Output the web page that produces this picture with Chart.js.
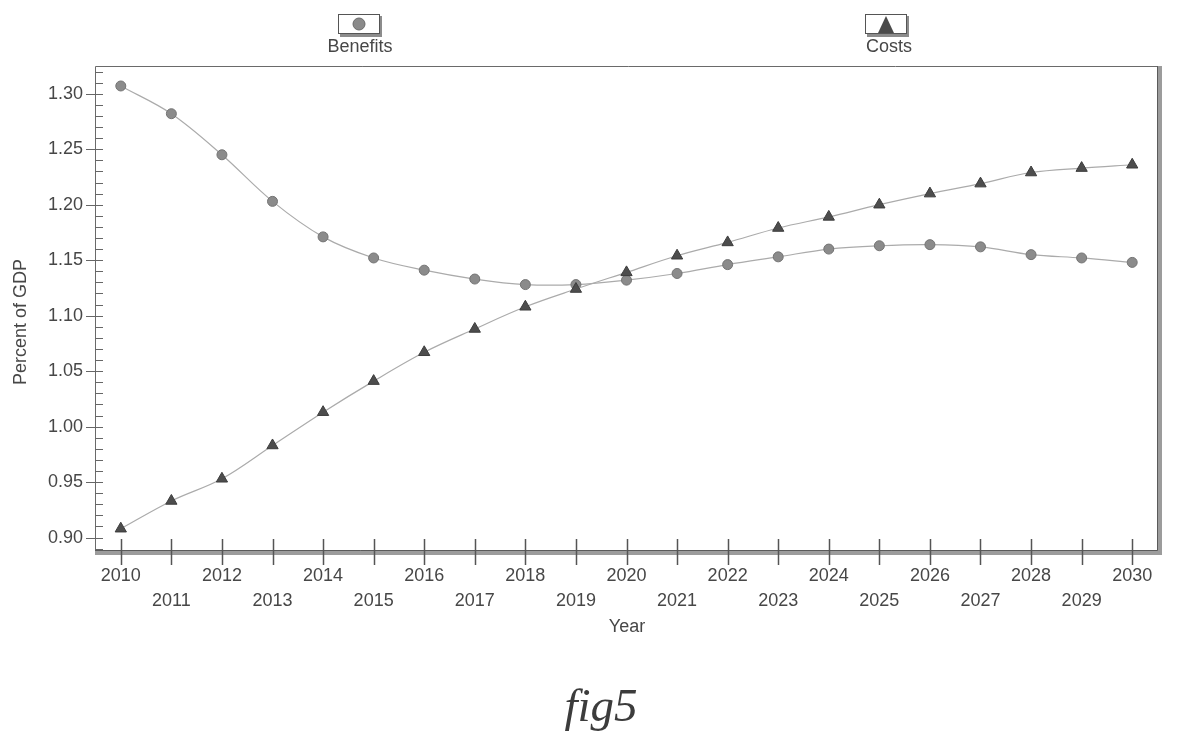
<!DOCTYPE html>
<html>
<head>
<meta charset="utf-8">
<script src="https://cdn.jsdelivr.net/npm/chart.js@4.4.1/dist/chart.umd.min.js"></script>
<style>
  html, body { margin: 0; padding: 0; background: #fff; }
  #wrap { position: relative; width: 1190px; height: 751px; }
  #caption {
    position: absolute; left: 0; top: 678px; width: 1202px;
    text-align: center; font: italic 47px "Liberation Serif", serif; color: #3c3c3c;
  }
</style>
</head>
<body>
<div id="wrap">
  <canvas id="chart" width="1190" height="751"></canvas>
  <div id="caption">fig5</div>
</div>
<script>
const years = [2010, 2011, 2012, 2013, 2014, 2015, 2016, 2017, 2018, 2019, 2020,
               2021, 2022, 2023, 2024, 2025, 2026, 2027, 2028, 2029, 2030];
const benefits = [1.307, 1.282, 1.245, 1.203, 1.171, 1.152, 1.141, 1.133, 1.128, 1.128, 1.132,
                  1.138, 1.146, 1.153, 1.160, 1.163, 1.164, 1.162, 1.155, 1.152, 1.148];
const costs = [0.908, 0.933, 0.953, 0.983, 1.013, 1.041, 1.067, 1.088, 1.108, 1.124, 1.139,
               1.154, 1.166, 1.179, 1.189, 1.200, 1.210, 1.219, 1.229, 1.233, 1.236];
const yTicks = [0.90, 0.95, 1.00, 1.05, 1.10, 1.15, 1.20, 1.25, 1.30];

const FONT = '"Liberation Sans", Arial, sans-serif';
const TEXT = '#474747';

// axis frame, tick marks, legend and axis titles
const decorations = {
  id: 'decorations',
  beforeDatasetsDraw(chart) {
    const { ctx, chartArea: a, scales: { x, y } } = chart;
    ctx.save();
    ctx.strokeStyle = '#6a6a6a';
    ctx.lineWidth = 1;
    ctx.beginPath();
    ctx.moveTo(a.left + 0.5, a.bottom);
    ctx.lineTo(a.left + 0.5, a.top + 0.5);
    ctx.lineTo(a.right + 4, a.top + 0.5);
    ctx.stroke();

    // shaded bottom / right edges
    ctx.fillStyle = '#9c9c9c';
    ctx.fillRect(a.left, a.bottom - 2, a.right - a.left + 4, 5);
    ctx.fillRect(a.right - 1, a.top, 5, a.bottom - a.top + 3);
    ctx.strokeStyle = '#5a5a5a';
    ctx.beginPath();
    ctx.moveTo(a.left, a.bottom - 1.5);
    ctx.lineTo(a.right - 0.5, a.bottom - 1.5);
    ctx.lineTo(a.right - 0.5, a.top);
    ctx.stroke();

    // y ticks: minor every 0.01 inside, major every 0.05 across
    ctx.strokeStyle = '#666';
    ctx.beginPath();
    for (let i = 89; i <= 132; i++) {
      const py = Math.round(y.getPixelForValue(i / 100)) + 0.5;
      const major = i % 5 === 0;
      ctx.moveTo(a.left - (major ? 9 : 0), py);
      ctx.lineTo(a.left + 8, py);
    }
    ctx.stroke();

    // x ticks crossing the axis
    ctx.strokeStyle = '#555';
    ctx.lineWidth = 1.5;
    ctx.beginPath();
    years.forEach(yr => {
      const px = Math.round(x.getPixelForValue(yr)) + 0.5;
      ctx.moveTo(px, a.bottom - 13);
      ctx.lineTo(px, a.bottom + 13);
    });
    ctx.stroke();
    ctx.restore();
  },
  afterDraw(chart) {
    const { ctx } = chart;
    ctx.save();
    ctx.fillStyle = TEXT;
    ctx.font = '18px ' + FONT;
    ctx.textAlign = 'center';
    ctx.textBaseline = 'middle';
    ctx.fillText('Year', 627, 627);
    ctx.fillText('Benefits', 360, 47);
    ctx.fillText('Costs', 889, 47);
    ctx.save();
    ctx.translate(21, 322);
    ctx.rotate(-Math.PI / 2);
    ctx.fillText('Percent of GDP', 0, 0);
    ctx.restore();

    const box = (cx) => {
      ctx.fillStyle = '#8c8c8c';
      ctx.fillRect(cx - 19, 16, 42, 21);
      ctx.fillStyle = '#fff';
      ctx.fillRect(cx - 21, 14, 42, 20);
      ctx.strokeStyle = '#555';
      ctx.lineWidth = 1;
      ctx.strokeRect(cx - 20.5, 14.5, 41, 19);
    };
    box(359);
    ctx.fillStyle = '#8a8a8a';
    ctx.strokeStyle = '#6a6a6a';
    ctx.beginPath();
    ctx.arc(359, 24, 6, 0, Math.PI * 2);
    ctx.fill();
    ctx.stroke();

    box(886);
    ctx.fillStyle = '#4a4a4a';
    ctx.beginPath();
    ctx.moveTo(886, 16);
    ctx.lineTo(894, 33);
    ctx.lineTo(878, 33);
    ctx.closePath();
    ctx.fill();
    ctx.restore();
  }
};

new Chart(document.getElementById('chart'), {
  type: 'line',
  data: {
    datasets: [
      {
        label: 'Costs',
        data: years.map((yr, i) => ({ x: yr, y: costs[i] })),
        borderColor: '#ababab',
        borderWidth: 1.2,
        tension: 0.35,
        pointStyle: 'triangle',
        pointRadius: 6.5,
        pointBackgroundColor: '#4d4d4d',
        pointBorderColor: '#3c3c3c',
        pointBorderWidth: 1,
        order: 0
      },
      {
        label: 'Benefits',
        data: years.map((yr, i) => ({ x: yr, y: benefits[i] })),
        borderColor: '#ababab',
        borderWidth: 1.2,
        tension: 0.35,
        pointStyle: 'circle',
        pointRadius: 5,
        pointBackgroundColor: '#8b8b8b',
        pointBorderColor: '#747474',
        pointBorderWidth: 1,
        order: 1
      }
    ]
  },
  options: {
    responsive: false,
    animation: false,
    layout: { padding: { top: 66, right: 32, left: 0, bottom: 0 } },
    plugins: {
      legend: { display: false },
      tooltip: { enabled: false }
    },
    scales: {
      x: {
        type: 'linear',
        min: 2009.49,
        max: 2030.51,
        afterFit: (s) => { s.height = 199; },
        afterBuildTicks: (s) => { s.ticks = years.map(v => ({ value: v })); },
        grid: { display: false, drawTicks: false },
        border: { display: false },
        ticks: {
          autoSkip: false,
          maxRotation: 0,
          padding: 12,
          color: TEXT,
          font: { family: FONT, size: 18, lineHeight: '25px' },
          callback: (v) => (v % 2 === 0 ? String(v) : ['', String(v)])
        }
      },
      y: {
        min: 0.887,
        max: 1.325,
        afterFit: (s) => { s.width = 95; },
        afterBuildTicks: (s) => { s.ticks = yTicks.map(v => ({ value: v })); },
        grid: { display: false, drawTicks: false },
        border: { display: false },
        ticks: {
          padding: 12,
          color: TEXT,
          font: { family: FONT, size: 18 },
          callback: (v) => v.toFixed(2)
        }
      }
    }
  },
  plugins: [decorations]
});
</script>
</body>
</html>
